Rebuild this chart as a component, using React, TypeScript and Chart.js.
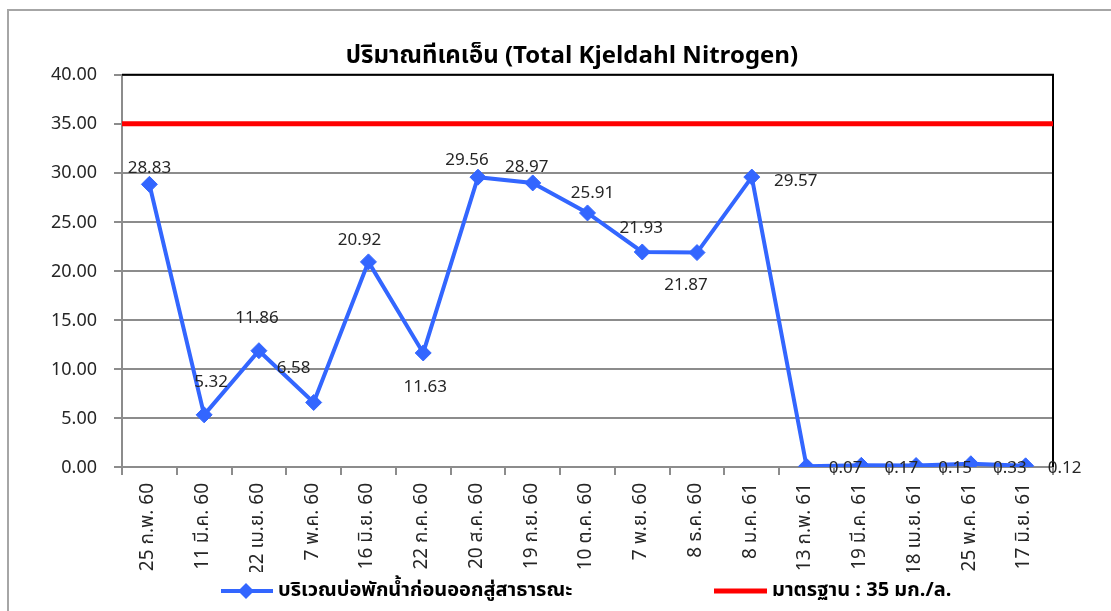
import React, { useEffect, useRef } from "react";
import { Chart, registerables } from "chart.js";

Chart.register(...registerables);

const chartTitle = "ปริมาณทีเคเอ็น (Total Kjeldahl Nitrogen)";
const categories = [
  "25 ก.พ. 60",
  "11 มี.ค. 60",
  "22 เม.ย. 60",
  "7 พ.ค. 60",
  "16 มิ.ย. 60",
  "22 ก.ค. 60",
  "20 ส.ค. 60",
  "19 ก.ย. 60",
  "10 ต.ค. 60",
  "7 พ.ย. 60",
  "8 ธ.ค. 60",
  "8 ม.ค. 61",
  "13 ก.พ. 61",
  "19 มี.ค. 61",
  "18 เม.ย. 61",
  "25 พ.ค. 61",
  "17 มิ.ย. 61",
];
const seriesName = "บริเวณบ่อพักน้ำก่อนออกสู่สาธารณะ";
const tknValues = [
  28.83, 5.32, 11.86, 6.58, 20.92, 11.63, 29.56, 28.97, 25.91, 21.93, 21.87,
  29.57, 0.07, 0.17, 0.15, 0.33, 0.12,
];
const standardName = "มาตรฐาน : 35 มก./ล.";
const standardValue = 35;
const yMin = 0;
const yMax = 40;
const yStep = 5;

// label offsets (style only): dx, dy relative to each point
const labelOffsets: [number, number][] = [
  [0, -17], [7, -33], [-2, -33], [-20, -35], [-9, -22], [2, 34], [-11, -18],
  [-6, -16], [5, -20], [-1, -24], [-11, 32], [44, 3], [39, 1], [40, 2],
  [39, 2], [39, 4], [39, 2],
];

const FONT = "Tahoma, 'Noto Sans Thai', 'Noto Sans', 'DejaVu Sans', sans-serif";
const BLUE = "#3366FF";
const RED = "#FF0000";
const GRID = "#8c8c8c";

const decorPlugin = {
  id: "decor",
  beforeDatasetsDraw(chart: any) {
    const { ctx, chartArea } = chart;
    ctx.save();
    ctx.strokeStyle = "#000000";
    ctx.lineWidth = 2;
    ctx.beginPath();
    ctx.moveTo(chartArea.left, chartArea.top);
    ctx.lineTo(chartArea.right, chartArea.top);
    ctx.lineTo(chartArea.right, chartArea.bottom);
    ctx.stroke();
    ctx.restore();
  },
  afterDatasetsDraw(chart: any) {
    const { ctx } = chart;
    const meta = chart.getDatasetMeta(0);
    ctx.save();
    ctx.font = `17px ${FONT}`;
    ctx.fillStyle = "#262626";
    ctx.textAlign = "center";
    ctx.textBaseline = "middle";
    meta.data.forEach((pt: any, i: number) => {
      const [dx, dy] = labelOffsets[i] || [0, -16];
      ctx.fillText(tknValues[i].toFixed(2), pt.x + dx, pt.y + dy + 2);
    });
    ctx.restore();
  },
  afterDraw(chart: any) {
    const { ctx } = chart;
    ctx.save();
    // outer frame
    ctx.strokeStyle = "#a6a6a6";
    ctx.lineWidth = 2;
    ctx.strokeRect(8, 10, 1200, 700);
    // legend
    const ly = 591;
    ctx.strokeStyle = BLUE;
    ctx.lineWidth = 4;
    ctx.beginPath();
    ctx.moveTo(221, ly);
    ctx.lineTo(273, ly);
    ctx.stroke();
    ctx.fillStyle = BLUE;
    ctx.beginPath();
    ctx.moveTo(246, ly - 8);
    ctx.lineTo(254, ly);
    ctx.lineTo(246, ly + 8);
    ctx.lineTo(238, ly);
    ctx.closePath();
    ctx.fill();
    ctx.font = `bold 20px ${FONT}`;
    ctx.fillStyle = "#000000";
    ctx.textAlign = "left";
    ctx.textBaseline = "middle";
    ctx.fillText(chart.data.datasets[0].label, 278, ly + 1);
    ctx.strokeStyle = RED;
    ctx.lineWidth = 5;
    ctx.beginPath();
    ctx.moveTo(714, ly);
    ctx.lineTo(767, ly);
    ctx.stroke();
    ctx.fillText(chart.data.datasets[1].label, 772, ly + 1);
    ctx.restore();
  },
};

export default function App() {
  const ref = useRef<HTMLCanvasElement | null>(null);

  useEffect(() => {
    document.body.style.margin = "0";
    document.body.style.overflow = "hidden";
    const canvas = ref.current;
    if (!canvas) return;
    const yTickValues: number[] = [];
    for (let v = yMin; v <= yMax; v += yStep) yTickValues.push(v);

    const chart = new Chart(canvas, {
      type: "line",
      data: {
        labels: categories,
        datasets: [
          {
            label: seriesName,
            data: tknValues,
            borderColor: BLUE,
            backgroundColor: BLUE,
            borderWidth: 4,
            pointStyle: "rectRot",
            pointRadius: 8,
            pointHoverRadius: 8,
            pointBorderWidth: 1,
            pointBorderColor: BLUE,
            tension: 0,
            xAxisID: "x",
            order: 1,
          },
          {
            label: standardName,
            data: [
              { x: 0, y: standardValue },
              { x: 1, y: standardValue },
            ],
            borderColor: RED,
            backgroundColor: RED,
            borderWidth: 5,
            pointRadius: 0,
            xAxisID: "x2",
            order: 2,
          } as any,
        ],
      },
      options: {
        responsive: false,
        animation: false,
        events: [],
        layout: { padding: { left: 33, right: 0, top: 0, bottom: 39 } },
        plugins: {
          legend: { display: false },
          tooltip: { enabled: false },
          title: {
            display: true,
            text: chartTitle,
            color: "#000000",
            font: { family: FONT, size: 24, weight: "bold", lineHeight: 1.2 },
            padding: { top: 44, bottom: 2 },
          },
        },
        scales: {
          x: {
            type: "category",
            offset: true,
            grid: {
              offset: true,
              drawOnChartArea: false,
              drawTicks: true,
              tickLength: 8,
              color: GRID,
              lineWidth: 2,
            },
            border: { color: GRID, width: 2 },
            ticks: {
              autoSkip: false,
              minRotation: 90,
              maxRotation: 90,
              padding: 8,
              color: "#262626",
              font: { family: FONT, size: 19 },
            },
            afterFit(scale: any) {
              scale.height = 105;
            },
          },
          x2: {
            type: "linear",
            display: false,
            min: 0,
            max: 1,
          },
          y: {
            min: yMin,
            max: yMax,
            afterBuildTicks(scale: any) {
              scale.ticks = yTickValues.map((v) => ({ value: v }));
            },
            grid: {
              color: GRID,
              lineWidth: 2,
              tickLength: 8,
            },
            border: { color: GRID, width: 2 },
            ticks: {
              padding: 17,
              labelOffset: 2,
              color: "#262626",
              font: { family: FONT, size: 18 },
              callback: (v: any) => Number(v).toFixed(2),
            },
            afterFit(scale: any) {
              scale.width = 89;
            },
          },
          yR: {
            position: "right",
            display: true,
            grid: { display: false },
            border: { display: false },
            ticks: { display: false },
            afterFit(scale: any) {
              scale.width = 58;
            },
          },
        },
      },
      plugins: [decorPlugin],
    });
    return () => chart.destroy();
  }, []);

  return (
    <div style={{ position: "fixed", left: 0, top: 0, width: 1111, height: 611 }}>
      <canvas ref={ref} width={1111} height={611} style={{ display: "block" }} />
    </div>
  );
}
